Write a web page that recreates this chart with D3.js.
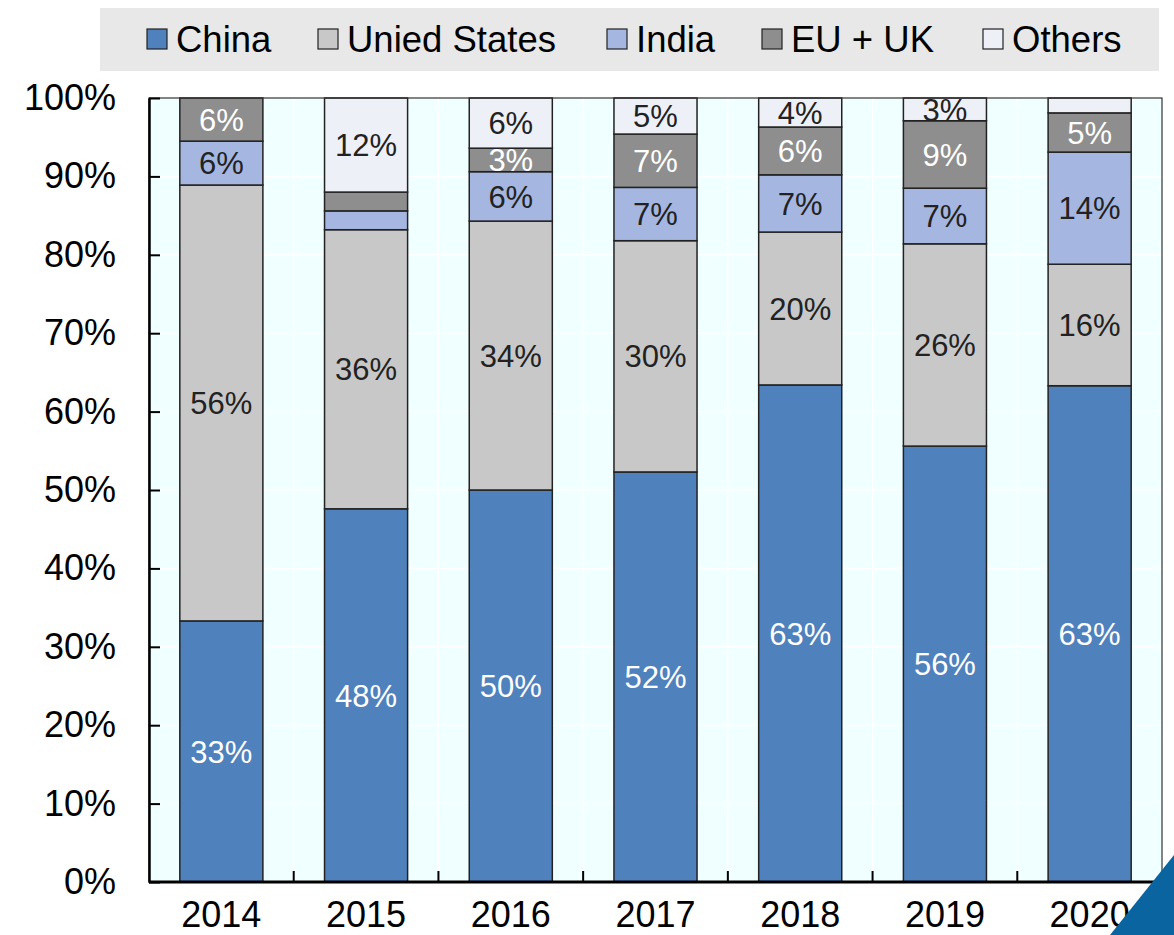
<!DOCTYPE html>
<html>
<head>
<meta charset="utf-8">
<script src="https://cdn.jsdelivr.net/npm/d3@7"></script>
<style>
  body { margin: 0; background: #fff; }
  svg { display: block; font-family: "Liberation Sans", Arial, sans-serif; }
</style>
</head>
<body>
<div id="chart"></div>
<script>
// data (shares in %)
const years = ["2014", "2015", "2016", "2017", "2018", "2019", "2020"];
const seriesNames = ["China", "Unied States", "India", "EU + UK", "Others"];
const china  = [33.3, 47.6, 50.0, 52.3, 63.4, 55.6, 63.3];
const us     = [55.6, 35.6, 34.3, 29.5, 19.5, 25.8, 15.5];
const india  = [5.6, 2.4, 6.3, 6.8, 7.3, 7.1, 14.3];
const euuk   = [5.5, 2.4, 3.0, 6.8, 6.1, 8.6, 5.0];
const others = [0.0, 12.0, 6.4, 4.6, 3.7, 2.9, 1.9];
const yTicks = [0, 10, 20, 30, 40, 50, 60, 70, 80, 90, 100];

const colors = ["#4f81bd", "#c8c8c8", "#a5b7e0", "#8e8e8e", "#eef0f8"];
const labelColors = ["#ffffff", "#222222", "#222222", "#ffffff", "#222222"];
const legendX = [147, 318, 607, 762, 983];

const W = 1174, H = 935;
const margin = {top: 98, right: 12, bottom: 53, left: 149};
const width = W - margin.left - margin.right;
const height = H - margin.top - margin.bottom;

// build a table for d3.stack from the arrays
const allSeries = [china, us, india, euuk, others];
const table = years.map((y, i) => {
    const row = {year: y};
    seriesNames.forEach((s, k) => row[s] = allSeries[k][i]);
    return row;
});
const stacked = d3.stack().keys(seriesNames)(table);

const svg = d3.select("#chart").append("svg")
    .attr("width", W)
    .attr("height", H);

// legend box
svg.append("rect")
    .attr("x", 100).attr("y", 8)
    .attr("width", 1059).attr("height", 63)
    .attr("fill", "#e8e8e8");

const legendG = svg.selectAll(".legendItem")
    .data(seriesNames)
    .join("g")
    .attr("class", "legendItem")
    .attr("transform", (d, i) => "translate(" + legendX[i] + ",29)");
legendG.append("rect")
    .attr("width", 20).attr("height", 20)
    .attr("fill", (d, i) => colors[i])
    .attr("stroke", "#222").attr("stroke-width", 1.2);
legendG.append("text")
    .attr("x", 29).attr("y", 23)
    .attr("font-size", 36.5)
    .attr("fill", "#000")
    .text(d => d);

const g = svg.append("g")
    .attr("transform", "translate(" + margin.left + "," + margin.top + ")");

const x = d3.scaleBand().domain(years).range([0, width])
    .paddingInner(0.426).paddingOuter(0.213);
const y = d3.scaleLinear().domain([0, 100]).range([height, 0]);
// category boundary position (left edge of a step)
const boundary = d => x(d) - x.step() * 0.213;

// plot background
g.append("rect")
    .attr("width", width).attr("height", height)
    .attr("fill", "#f0ffff");

// white grid lines
g.selectAll(".hgrid")
    .data(yTicks)
    .join("line")
    .attr("x1", 0).attr("x2", width)
    .attr("y1", d => y(d)).attr("y2", d => y(d))
    .attr("stroke", "#fff").attr("stroke-width", 1.5);
g.selectAll(".vgrid")
    .data(years.slice(1))
    .join("line")
    .attr("x1", boundary).attr("x2", boundary)
    .attr("y1", 0).attr("y2", height)
    .attr("stroke", "#fff").attr("stroke-width", 1.5);

// bars
const layer = g.selectAll(".layer")
    .data(stacked)
    .join("g")
    .attr("class", "layer")
    .attr("fill", (d, i) => colors[i]);
layer.selectAll("rect")
    .data(d => d)
    .join("rect")
    .attr("x", d => x(d.data.year))
    .attr("width", x.bandwidth())
    .attr("y", d => y(d[1]))
    .attr("height", d => y(d[0]) - y(d[1]))
    .attr("stroke", (d) => (d[1] - d[0]) > 0 ? "#222" : "none")
    .attr("stroke-width", 1.5);

// plot border (top / right)
g.append("rect")
    .attr("width", width).attr("height", height)
    .attr("fill", "none")
    .attr("stroke", "#333").attr("stroke-width", 1.2);

// value labels
g.append("clipPath").attr("id", "plotClip")
    .append("rect").attr("width", width).attr("height", height);
const labels = g.append("g").attr("clip-path", "url(#plotClip)");
stacked.forEach((s, i) => {
    labels.selectAll(".lbl" + i)
        .data(s.filter(d => Math.round(d[1] - d[0]) >= 3))
        .join("text")
        .attr("x", d => x(d.data.year) + x.bandwidth() / 2)
        .attr("y", d => y((d[0] + d[1]) / 2))
        .attr("dy", "0.36em")
        .attr("text-anchor", "middle")
        .attr("font-size", 31)
        .attr("fill", labelColors[i])
        .text(d => Math.round(d[1] - d[0]) + "%");
});

// y axis
const yAxis = g.append("g")
    .call(d3.axisLeft(y).tickValues(yTicks).tickFormat(d => d + "%")
        .tickSizeInner(-11).tickSizeOuter(0).tickPadding(33));
yAxis.select(".domain").attr("stroke", "#000").attr("stroke-width", 2.5);
yAxis.selectAll(".tick line").attr("stroke", "#000").attr("stroke-width", 2);
yAxis.selectAll("text").attr("font-size", 36).attr("fill", "#000")
    .attr("font-family", "Liberation Sans, Arial, sans-serif");

// x axis: ticks on category boundaries pointing up
const xAxisG = g.append("g")
    .attr("transform", "translate(0," + height + ")");
xAxisG.append("line")
    .attr("x1", 0).attr("x2", width)
    .attr("stroke", "#000").attr("stroke-width", 3);
xAxisG.selectAll(".xtick")
    .data(years.slice(1))
    .join("line")
    .attr("x1", boundary).attr("x2", boundary)
    .attr("y1", 0).attr("y2", -11)
    .attr("stroke", "#000").attr("stroke-width", 2);
xAxisG.selectAll(".xlabel")
    .data(years)
    .join("text")
    .attr("x", d => x(d) + x.bandwidth() / 2)
    .attr("y", 45)
    .attr("text-anchor", "middle")
    .attr("font-size", 36)
    .attr("fill", "#000")
    .text(d => d);

// corner decoration
svg.append("polygon")
    .attr("points", "1174,855 1174,935 1110,935")
    .attr("fill", "#0a64a0");
</script>
</body>
</html>
